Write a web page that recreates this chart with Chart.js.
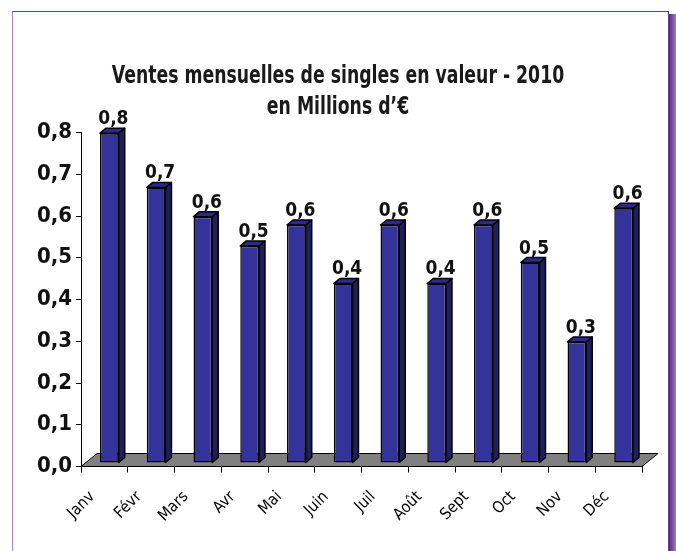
<!DOCTYPE html>
<html>
<head>
<meta charset="utf-8">
<script src="https://cdn.jsdelivr.net/npm/chart.js@4.4.0/dist/chart.umd.min.js"></script>
<style>
html, body { margin: 0; padding: 0; background: #fff; width: 676px; height: 551px; overflow: hidden; }
#frame { position: absolute; left: 12px; top: 11px; width: 655px; height: 600px;
  border-left: 1px solid #a583c0; border-top: 1px solid #6d3a92; border-right: 1px solid #6d3a92; }
#shadow { position: absolute; left: 669px; top: 14px; width: 7px; height: 600px;
  background: linear-gradient(to right, #5b2483, #a47cc0); }
#myChart { position: absolute; left: 0; top: 0; }
</style>
</head>
<body>
<div id="frame"></div>
<div id="shadow"></div>
<canvas id="myChart" width="676" height="551"></canvas>
<script>
// monthly single sales, millions of euros
const months = ['Janv', 'Févr', 'Mars', 'Avr', 'Mai', 'Juin', 'Juil', 'Août', 'Sept', 'Oct', 'Nov', 'Déc']
const sales = [0.79, 0.66, 0.59, 0.52, 0.57, 0.43, 0.57, 0.43, 0.57, 0.48, 0.29, 0.61]
const titleLines = ['Ventes mensuelles de singles en valeur - 2010', 'en Millions d\u2019€']

const condensed = '"Liberation Sans Narrow", "DejaVu Sans Condensed", "Arial Narrow", sans-serif'
const fmt = v => v.toFixed(1).replace('.', ',')

// title in a squeezed bold font (the original uses a very narrow face)
const squeezedTitle = {
    id: 'squeezedTitle',
    afterDraw(chart) {
        const ctx = chart.ctx
        ctx.save()
        ctx.fillStyle = '#1a1a1a'
        ctx.font = 'bold 24px ' + condensed
        ctx.textAlign = 'center'
        ctx.textBaseline = 'middle'
        titleLines.forEach((line, i) => {
            ctx.save()
            ctx.translate(chart.width / 2, 77 + i * 31)
            ctx.scale(0.8, 1)
            ctx.fillText(line, 0, 0)
            ctx.restore()
        })
        ctx.restore()
    }
}

// fake 3d look: floor, bar sides / tops and value labels
const bars3d = {
    id: 'bars3d',
    beforeDatasetsDraw(chart) {
        const ctx = chart.ctx
        const xs = chart.scales.x
        const y0 = chart.scales.y.getPixelForValue(0)
        ctx.save()
        ctx.beginPath()
        ctx.moveTo(xs.left, y0)
        ctx.lineTo(xs.right, y0)
        ctx.lineTo(xs.right + 16, y0 - 13)
        ctx.lineTo(xs.left + 16, y0 - 13)
        ctx.closePath()
        ctx.fillStyle = '#808080'
        ctx.fill()
        ctx.strokeStyle = '#000'
        ctx.lineWidth = 1
        ctx.stroke()
        ctx.restore()

        ctx.save()
        ctx.translate(5, -3.5)
    },
    afterDatasetsDraw(chart) {
        const ctx = chart.ctx
        const dx = 6, dy = 5
        const meta = chart.getDatasetMeta(0)
        meta.data.forEach((bar, i) => {
            const left = bar.x - bar.width / 2
            const right = bar.x + bar.width / 2
            ctx.lineWidth = 1.5
            ctx.strokeStyle = '#000'
            ctx.lineJoin = 'round'

            // side
            ctx.beginPath()
            ctx.moveTo(right, bar.y)
            ctx.lineTo(right + dx, bar.y - dy)
            ctx.lineTo(right + dx, bar.base - dy)
            ctx.lineTo(right, bar.base)
            ctx.closePath()
            ctx.fillStyle = '#1f1f5c'
            ctx.fill()
            ctx.stroke()

            // top
            ctx.beginPath()
            ctx.moveTo(left, bar.y)
            ctx.lineTo(left + dx, bar.y - dy)
            ctx.lineTo(right + dx, bar.y - dy)
            ctx.lineTo(right, bar.y)
            ctx.closePath()
            ctx.fillStyle = '#2b2b85'
            ctx.fill()
            ctx.stroke()

            // value label
            ctx.fillStyle = '#111'
            ctx.font = 'bold 19px ' + condensed
            ctx.textAlign = 'center'
            ctx.textBaseline = 'alphabetic'
            ctx.fillText(fmt(sales[i]), bar.x + dx / 2 + 1, bar.y - 9)
        })
        ctx.restore()
    }
}

const ctx = document.getElementById('myChart').getContext('2d')

const salesChart = new Chart(ctx, {
    type: 'bar',
    data: {
        labels: months,
        datasets: [{
            label: 'Ventes',
            data: sales,
            backgroundColor: '#333399',
            borderColor: '#000',
            borderWidth: 1.5,
            borderSkipped: false,
            barPercentage: 0.4,
            categoryPercentage: 1,
            clip: false
        }]
    },
    options: {
        responsive: false,
        animation: false,
        layout: { padding: { left: 0, right: 34, top: 132.5, bottom: 0 } },
        plugins: {
            legend: { display: false },
            tooltip: { enabled: false },
            title: { display: false }
        },
        scales: {
            x: {
                grid: { offset: true, drawOnChartArea: false, tickLength: 6, color: '#000' },
                border: { display: true, color: '#000' },
                ticks: {
                    autoSkip: false,
                    minRotation: 45,
                    maxRotation: 45,
                    labelOffset: -12,
                    padding: 15,
                    color: '#000',
                    font: { family: condensed, size: 16 }
                },
                afterFit(scale) { scale.height = 84.5 }
            },
            y: {
                min: 0,
                max: 0.8,
                grid: { drawOnChartArea: false, tickLength: 5, color: '#000' },
                border: { display: true, color: '#000' },
                ticks: {
                    stepSize: 0.1,
                    padding: 4,
                    color: '#111',
                    font: { family: condensed, size: 22, weight: 'bold' },
                    callback: v => fmt(v)
                },
                afterFit(scale) { scale.width = 81 }
            }
        }
    },
    plugins: [bars3d, squeezedTitle]
})
</script>
</body>
</html>
